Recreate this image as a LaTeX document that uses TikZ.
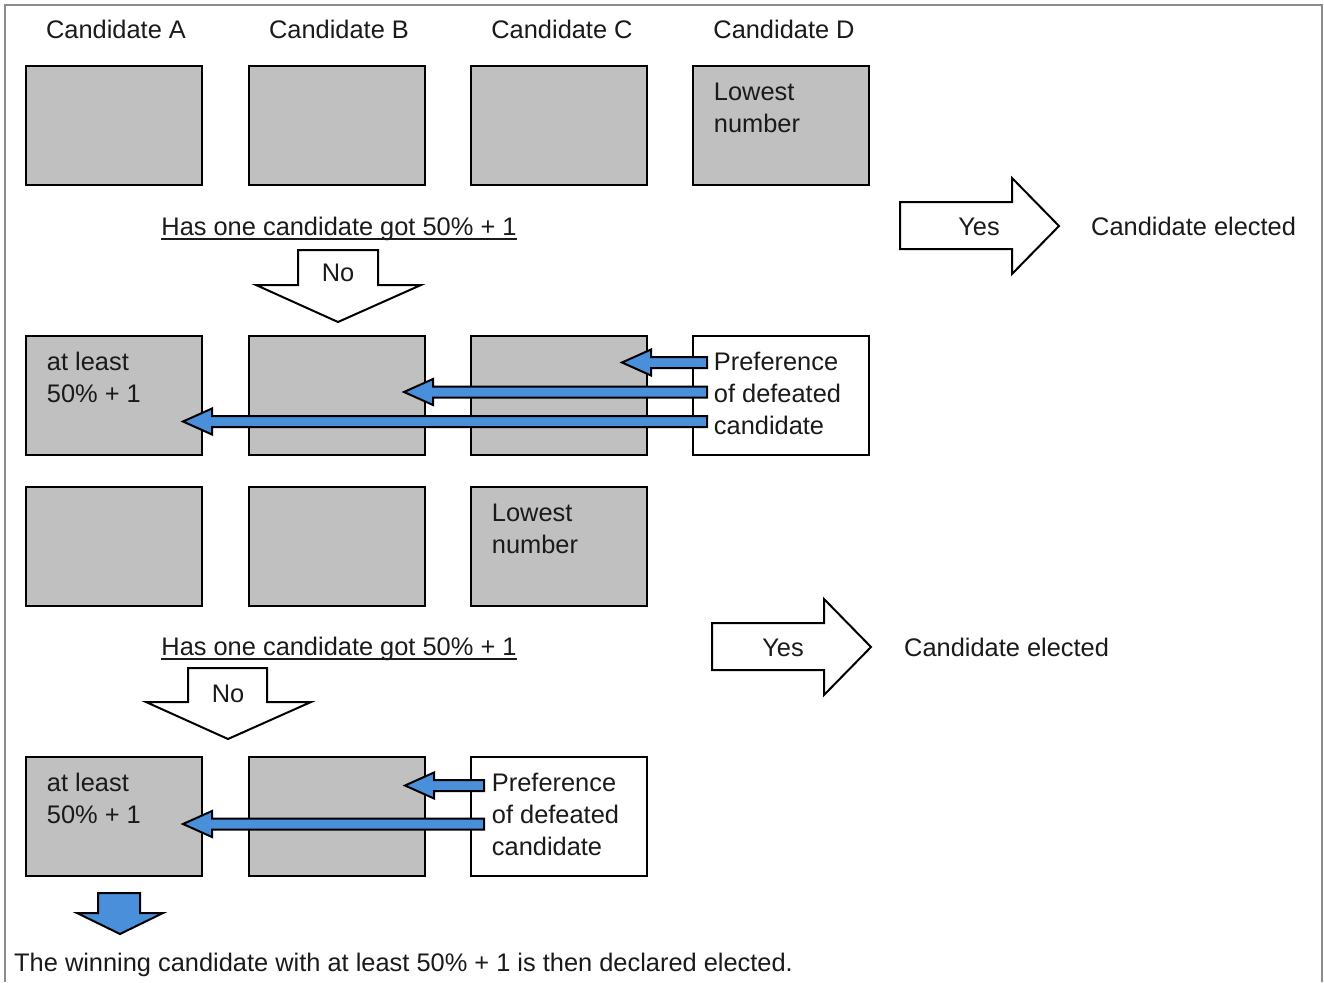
\documentclass[tikz,border=0pt]{standalone}
\usepackage{fontspec}
\setmainfont{Liberation Sans}
\usetikzlibrary{calc}
\definecolor{boxgray}{RGB}{192,192,192}
\definecolor{prefblue}{RGB}{74,143,218}
\definecolor{ink}{RGB}{26,26,26}
\definecolor{framegray}{RGB}{140,140,140}
\newcommand\fatarrow[2]{%
  \draw[fatarrow] (#2) -- ($(#2)+(29,-13)$) -- ($(#2)+(29,-5.5)$) -- ($(#1)+(0,-5.5)$)
    -- ($(#1)+(0,5.5)$) -- ($(#2)+(29,5.5)$) -- ($(#2)+(29,13)$) -- cycle;}
\begin{document}
\begin{tikzpicture}[x=1pt,y=-1pt,
  every node/.style={font=\fontsize{25.4}{32}\selectfont, text=ink},
  cbox/.style={draw=black, line width=2.5pt, fill=boxgray, minimum width=176pt, minimum height=119pt, inner sep=0pt},
  wbox/.style={cbox, fill=white},
  txt/.style={inner sep=0pt},
  boxtxt/.style={inner sep=0pt, anchor=north west, align=left},
  fatarrow/.style={draw=black, line width=2pt, fill=prefblue, line join=miter},
  blockarrow/.style={draw=black, line width=2pt, fill=white, line join=miter},
  ul/.style={line width=1.6pt, draw=ink}]
\useasboundingbox (0,0) rectangle (1324,982);
% frame
\draw[framegray, line width=1.5pt] (5,982) -- (5,5) -- (1322,5) -- (1322,982);

% headers
\node[txt, anchor=base] (hA) at (116,38) {Candidate A};
\node[txt, anchor=base] (hB) at (339,38) {Candidate B};
\node[txt, anchor=base] (hC) at (562,38) {Candidate C};
\node[txt, anchor=base] (hD) at (784,38) {Candidate D};

% row 1
\node[cbox] (a1) at (114,125.5) {};
\node[cbox] (b1) at (337,125.5) {};
\node[cbox] (c1) at (559,125.5) {};
\node[cbox] (d1) at (781,125.5) {};
\node[boxtxt] (d1t) at ($(d1.north west)+(22,18.5)$) {Lowest\\number};

% question 1
\node[txt, anchor=base] (q1) at (339,235) {Has one candidate got 50\% + 1};
\draw[ul] ([yshift=-4pt]q1.base west) -- ([yshift=-4pt]q1.base east);

% No arrow 1
\draw[blockarrow] (298,250) -- (378,250) -- (378,285) -- (421,285) -- (338,322) -- (256,285) -- (298,285) -- cycle;
\node[txt, anchor=base] (no1) at (338,281) {No};

% Yes arrow 1
\draw[blockarrow] (900,202) -- (1012,202) -- (1012,178) -- (1059,226) -- (1012,274) -- (1012,249) -- (900,249) -- cycle;
\node[txt, anchor=base] (yes1) at (979,235) {Yes};
\node[txt, anchor=base west] (el1) at (1091,235) {Candidate elected};

% row 2
\node[cbox] (a2) at (114,395.5) {};
\node[cbox] (b2) at (337,395.5) {};
\node[cbox] (c2) at (559,395.5) {};
\node[wbox] (p2) at (781,395.5) {};
\node[boxtxt] (a2t) at ($(a2.north west)+(22,17)$) {at least\\50\% + 1};
\coordinate (r2s1) at (707,362.5);
\coordinate (r2t1) at (622,362.5);
\coordinate (r2s2) at (707,392);
\coordinate (r2t2) at (404,392);
\coordinate (r2s3) at (707,421.5);
\coordinate (r2t3) at (183,421.5);
\fatarrow{r2s1}{r2t1}
\fatarrow{r2s2}{r2t2}
\fatarrow{r2s3}{r2t3}
\node[boxtxt] (p2t) at ($(p2.north west)+(22,17)$) {Preference\\of defeated\\candidate};

% row 3
\node[cbox] (a3) at (114,546.5) {};
\node[cbox] (b3) at (337,546.5) {};
\node[cbox] (c3) at (559,546.5) {};
\node[boxtxt] (c3t) at ($(c3.north west)+(22,18.5)$) {Lowest\\number};

% question 2
\node[txt, anchor=base] (q2) at (339,655) {Has one candidate got 50\% + 1};
\draw[ul] ([yshift=-4pt]q2.base west) -- ([yshift=-4pt]q2.base east);

% No arrow 2
\draw[blockarrow] (188,668) -- (267,668) -- (267,702) -- (311,702) -- (228,739) -- (146,702) -- (188,702) -- cycle;
\node[txt, anchor=base] (no2) at (228,702) {No};

% Yes arrow 2
\draw[blockarrow] (712,623) -- (824,623) -- (824,599) -- (871,647) -- (824,695) -- (824,670) -- (712,670) -- cycle;
\node[txt, anchor=base] (yes2) at (783,656) {Yes};
\node[txt, anchor=base west] (el2) at (904,656) {Candidate elected};

% row 4
\node[cbox] (a4) at (114,816.5) {};
\node[cbox] (b4) at (337,816.5) {};
\node[wbox] (p4) at (559,816.5) {};
\node[boxtxt] (a4t) at ($(a4.north west)+(22,17)$) {at least\\50\% + 1};
\coordinate (r4s1) at (484,785.5);
\coordinate (r4t1) at (405,785.5);
\coordinate (r4s2) at (484,824);
\coordinate (r4t2) at (183,824);
\fatarrow{r4s1}{r4t1}
\fatarrow{r4s2}{r4t2}
\node[boxtxt] (p4t) at ($(p4.north west)+(22,17)$) {Preference\\of defeated\\candidate};

% final blue arrow
\draw[fatarrow] (98,893) -- (140,893) -- (140,913) -- (163,913) -- (120,934) -- (77,913) -- (98,913) -- cycle;
\node[txt, anchor=base west] (final) at (14,971) {The winning candidate with at least 50\% + 1 is then declared elected.};
\end{tikzpicture}
\end{document}
